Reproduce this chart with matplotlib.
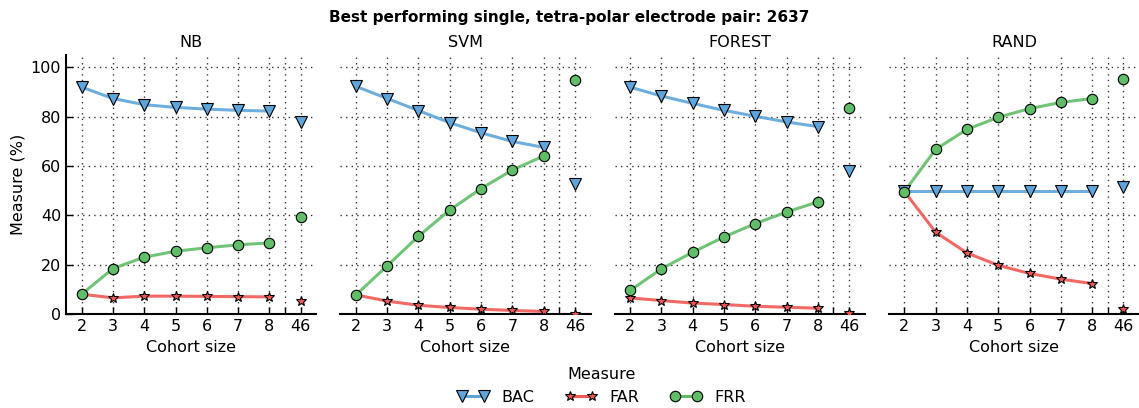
import numpy as np
import matplotlib
matplotlib.use('Agg')
import matplotlib.pyplot as plt

# cohort sizes; 46 is the full cohort, drawn apart from the others
cohort = [2, 3, 4, 5, 6, 7, 8, 46]
classifiers = ['NB', 'SVM', 'FOREST', 'RAND']

bac = {
    'NB':     [92.0, 87.4, 84.9, 83.8, 83.1, 82.6, 82.3, 77.9],
    'SVM':    [92.3, 87.4, 82.5, 77.6, 73.5, 70.0, 67.6, 52.8],
    'FOREST': [92.0, 88.4, 85.4, 82.6, 80.2, 77.9, 76.0, 58.2],
    'RAND':   [50.0, 50.0, 50.0, 50.0, 50.0, 50.0, 50.0, 51.6],
}
far = {
    'NB':     [8.1, 6.6, 7.3, 7.3, 7.2, 7.1, 7.0, 5.3],
    'SVM':    [7.8, 5.3, 3.6, 2.7, 2.0, 1.5, 1.1, 0.0],
    'FOREST': [6.6, 5.5, 4.5, 3.9, 3.2, 2.8, 2.4, 0.3],
    'RAND':   [49.7, 33.2, 24.8, 19.8, 16.5, 14.2, 12.4, 2.2],
}
frr = {
    'NB':     [8.1, 18.5, 23.1, 25.5, 26.9, 28.1, 28.9, 39.5],
    'SVM':    [7.8, 19.6, 31.6, 42.2, 50.9, 58.4, 64.1, 95.1],
    'FOREST': [9.6, 18.4, 25.1, 31.3, 36.7, 41.4, 45.5, 83.5],
    'RAND':   [49.7, 66.8, 74.9, 79.8, 83.3, 85.8, 87.4, 95.5],
}

series = [('BAC', bac, '#5DA5DA', 'v', 8),
          ('FAR', far, '#F15854', '*', 7.5),
          ('FRR', frr, '#60BD68', 'o', 7.5)]

plt.rcParams['font.family'] = 'DejaVu Sans'
plt.rcParams['font.size'] = 11

fig, axes = plt.subplots(1, 4, figsize=(11.39, 4.08), dpi=100, sharey=True)
fig.subplots_adjust(left=0.058, right=1.0, bottom=0.23, top=0.865, wspace=0.096)

pos = np.arange(len(cohort)) + 2.0   # 2..8 then 46 at position 9

for ax, clf in zip(axes, classifiers):
    for name, data, col, mk, ms in series:
        vals = data[clf]
        ax.plot(pos[:-1], vals[:-1], '-', color=col, lw=2.2, alpha=0.9, zorder=2)
        ax.plot(pos, vals, linestyle='none', marker=mk, ms=ms, mfc=col,
                mec='black', mew=0.8, zorder=3, label=name)
    ax.set_xlim(1.5, 9.5)
    ax.set_ylim(0, 105)
    ax.set_xticks(list(pos[:-1]) + [8.5, pos[-1]])
    ax.set_xticklabels([str(c) for c in cohort[:-1]] + ['', str(cohort[-1])])
    ax.set_yticks([0, 20, 40, 60, 80, 100])
    ax.grid(True, color='black', linestyle=(0, (1, 3)), lw=1.0, alpha=0.8)
    ax.set_axisbelow(True)
    ax.tick_params(direction='in', length=5, width=1, labelsize=11.5)
    ax.set_title(clf, fontsize=11.5)
    ax.set_xlabel('Cohort size', fontsize=11.5)
    for s in ['top', 'right']:
        ax.spines[s].set_visible(False)
    ax.spines['bottom'].set_linewidth(1.5)
    if ax is not axes[0]:
        ax.spines['left'].set_visible(False)
        ax.tick_params(axis='y', left=False)
    else:
        ax.spines['left'].set_linewidth(1.5)

axes[0].set_ylabel('Measure (%)', fontsize=11.5)

fig.suptitle('Best performing single, tetra-polar electrode pair: 2637',
             fontsize=11, fontweight='bold', y=0.975)

handles = []
for name, data, col, mk, ms in series:
    h, = axes[0].plot([], [], '-', color=col, lw=2.2, marker=mk, ms=ms,
                      mfc=col, mec='black', mew=0.8)
    handles.append(h)
leg = fig.legend(handles, [s[0] for s in series], title='Measure', ncol=3,
                 loc='lower center', bbox_to_anchor=(0.528, -0.028), frameon=False,
                 numpoints=2, fontsize=11.5, title_fontsize=11.5,
                 columnspacing=1.9, handlelength=2.0)

fig.savefig('out.png', dpi=100)
